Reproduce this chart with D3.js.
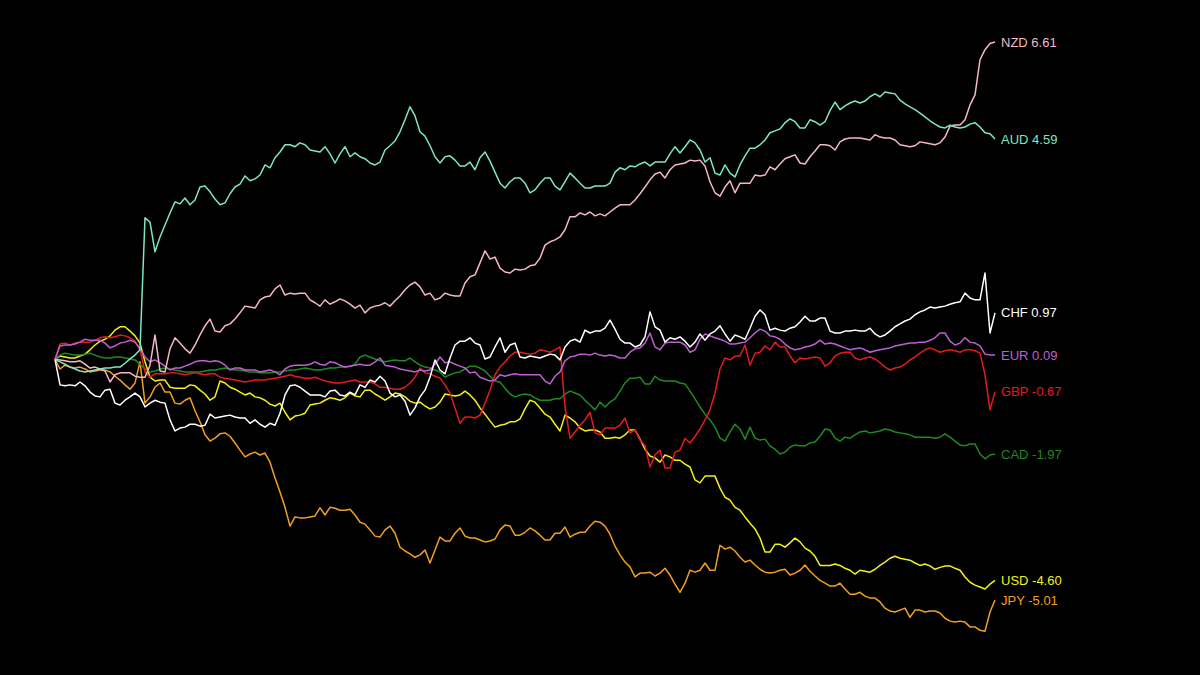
<!DOCTYPE html>
<html>
<head>
<meta charset="utf-8">
<script src="https://cdn.jsdelivr.net/npm/d3@7"></script>
<style>
  body { margin: 0; background: #000; }
</style>
</head>
<body>
<div id="chart-container"></div>
<script>
// currency names, in drawing order
const currencies = ["JPY", "USD", "CAD", "GBP", "EUR", "CHF", "NZD", "AUD"];

// % change since start, one value per step
const aud = [0, -0.05, -0.10, -0.16, -0.20, -0.24, -0.26, -0.24, -0.22, -0.20,
  -0.18, -0.18, -0.16, -0.16, -0.08, 0.01, 0.09, 0.20, 2.95, 2.86,
  2.24, 2.55, 2.80, 3.05, 3.28, 3.24, 3.36, 3.22, 3.32, 3.59,
  3.61, 3.49, 3.34, 3.22, 3.26, 3.45, 3.59, 3.65, 3.82, 3.72,
  3.76, 3.84, 4.05, 3.99, 4.20, 4.32, 4.47, 4.47, 4.43, 4.51,
  4.47, 4.36, 4.34, 4.32, 4.43, 4.28, 4.09, 4.28, 4.43, 4.22,
  4.30, 4.22, 4.18, 4.09, 4.05, 4.11, 4.36, 4.45, 4.55, 4.74,
  4.99, 5.26, 5.07, 4.74, 4.65, 4.45, 4.22, 4.09, 4.22, 4.24,
  4.15, 4.03, 4.03, 4.11, 3.95, 4.20, 4.32, 4.13, 3.90, 3.67,
  3.57, 3.70, 3.78, 3.78, 3.67, 3.47, 3.53, 3.67, 3.78, 3.78,
  3.61, 3.53, 3.70, 3.88, 3.78, 3.67, 3.57, 3.57, 3.61, 3.61,
  3.61, 3.67, 3.90, 3.99, 3.95, 4.03, 4.01, 4.07, 4.11, 4.03,
  4.11, 4.11, 4.11, 4.28, 4.43, 4.30, 4.43, 4.57, 4.51, 4.36,
  4.11, 4.20, 3.88, 3.84, 4.05, 3.88, 3.80, 4.05, 4.24, 4.40,
  4.40, 4.47, 4.57, 4.72, 4.76, 4.80, 4.93, 5.01, 4.95, 4.82,
  4.82, 4.99, 4.95, 4.88, 4.95, 5.18, 5.36, 5.20, 5.28, 5.34,
  5.38, 5.34, 5.38, 5.47, 5.53, 5.47, 5.57, 5.55, 5.53, 5.40,
  5.32, 5.26, 5.20, 5.13, 5.05, 4.97, 4.90, 4.84, 4.82, 4.88,
  4.84, 4.82, 4.84, 4.90, 4.93, 4.84, 4.72, 4.70, 4.59];

const nzd = [0, -0.01, -0.03, -0.05, -0.05, -0.03, -0.10, -0.18, -0.16, -0.20,
  -0.24, -0.47, -0.32, -0.28, -0.28, -0.28, -0.35, -0.37, -0.37, -0.12,
  0.51, -0.24, -0.26, 0.22, 0.45, 0.34, 0.22, 0.13, 0.30, 0.51,
  0.70, 0.84, 0.59, 0.57, 0.70, 0.74, 0.84, 0.97, 1.11, 1.09,
  1.07, 1.24, 1.30, 1.32, 1.47, 1.55, 1.34, 1.38, 1.36, 1.38,
  1.38, 1.24, 1.18, 1.11, 1.24, 1.15, 1.20, 1.26, 1.22, 1.15,
  1.07, 1.13, 0.97, 1.07, 1.11, 1.13, 1.18, 1.11, 1.22, 1.32,
  1.45, 1.55, 1.61, 1.51, 1.34, 1.38, 1.24, 1.28, 1.38, 1.34,
  1.32, 1.32, 1.59, 1.72, 1.76, 2.01, 2.26, 2.09, 2.13, 1.90,
  1.82, 1.80, 1.88, 1.86, 1.88, 1.95, 1.97, 2.11, 2.38, 2.45,
  2.49, 2.55, 2.70, 2.97, 2.97, 3.05, 3.01, 3.07, 2.99, 3.03,
  2.99, 3.07, 3.15, 3.22, 3.22, 3.22, 3.32, 3.45, 3.59, 3.74,
  3.86, 3.90, 3.78, 3.95, 4.05, 4.07, 4.09, 4.15, 4.13, 4.15,
  4.03, 3.70, 3.47, 3.40, 3.59, 3.72, 3.47, 3.67, 3.67, 3.67,
  3.84, 3.82, 3.84, 4.01, 3.95, 4.07, 4.18, 4.22, 4.26, 4.09,
  4.07, 4.22, 4.34, 4.47, 4.47, 4.45, 4.36, 4.53, 4.59, 4.61,
  4.61, 4.61, 4.59, 4.57, 4.68, 4.63, 4.61, 4.61, 4.57, 4.47,
  4.45, 4.43, 4.45, 4.53, 4.51, 4.49, 4.47, 4.51, 4.63, 4.86,
  4.88, 4.88, 4.99, 5.30, 5.51, 6.24, 6.45, 6.58, 6.61];

const chf = [0, -0.53, -0.55, -0.53, -0.55, -0.47, -0.55, -0.68, -0.76, -0.78,
  -0.64, -0.62, -0.91, -0.95, -0.85, -0.78, -0.70, -0.78, -0.99, -0.91,
  -0.85, -0.89, -0.91, -1.26, -1.49, -1.43, -1.41, -1.35, -1.35, -1.39,
  -1.37, -1.14, -1.22, -1.20, -1.18, -1.16, -1.20, -1.22, -1.22, -1.33,
  -1.26, -1.35, -1.41, -1.33, -1.37, -1.12, -0.74, -0.55, -0.53, -0.58,
  -0.66, -0.74, -0.74, -0.74, -0.78, -0.66, -0.64, -0.74, -0.76, -0.68,
  -0.74, -0.53, -0.58, -0.43, -0.47, -0.35, -0.45, -0.70, -0.78, -0.74,
  -0.87, -1.16, -1.01, -0.78, -0.64, -0.37, -0.01, -0.22, -0.30, 0.03,
  0.30, 0.38, 0.38, 0.45, 0.34, 0.30, 0.01, 0.05, 0.26, 0.45,
  0.15, 0.30, 0.34, 0.05, 0.03, 0.07, 0.05, 0.03, 0.07, 0.11,
  0.09, -0.01, 0.26, 0.38, 0.42, 0.36, 0.61, 0.55, 0.59, 0.59,
  0.65, 0.82, 0.63, 0.42, 0.34, 0.34, 0.26, 0.30, 0.47, 0.99,
  0.68, 0.61, 0.36, 0.45, 0.42, 0.47, 0.38, 0.26, 0.36, 0.53,
  0.40, 0.53, 0.59, 0.70, 0.53, 0.38, 0.51, 0.47, 0.42, 0.65,
  0.90, 1.03, 0.93, 0.61, 0.65, 0.61, 0.59, 0.65, 0.68, 0.78,
  0.90, 0.80, 0.80, 0.86, 0.86, 0.59, 0.55, 0.55, 0.59, 0.59,
  0.61, 0.59, 0.59, 0.65, 0.53, 0.47, 0.51, 0.59, 0.68, 0.74,
  0.80, 0.84, 0.93, 0.99, 1.03, 1.09, 1.07, 1.09, 1.11, 1.15,
  1.18, 1.20, 1.38, 1.28, 1.24, 1.24, 1.80, 0.55, 0.97];

const eur = [0, 0.28, 0.30, 0.30, 0.32, 0.36, 0.42, 0.40, 0.40, 0.40,
  0.34, 0.24, 0.28, 0.34, 0.36, 0.40, 0.36, 0.22, 0.05, -0.05,
  -0.01, -0.07, -0.14, -0.22, -0.18, -0.18, -0.14, -0.10, -0.05, -0.03,
  -0.03, -0.05, -0.03, -0.05, -0.12, -0.22, -0.18, -0.18, -0.22, -0.22,
  -0.22, -0.26, -0.24, -0.22, -0.26, -0.32, -0.20, -0.14, -0.12, -0.12,
  -0.12, -0.10, -0.05, -0.10, -0.12, -0.05, -0.07, -0.12, -0.16, -0.14,
  -0.12, -0.10, -0.12, -0.12, -0.05, 0.03, -0.12, -0.14, -0.16, -0.20,
  -0.22, -0.24, -0.26, -0.22, -0.24, -0.22, -0.10, 0.05, -0.07, -0.05,
  -0.10, -0.14, -0.18, -0.28, -0.26, -0.37, -0.41, -0.45, -0.43, -0.32,
  -0.35, -0.32, -0.30, -0.32, -0.32, -0.32, -0.32, -0.32, -0.45, -0.51,
  -0.35, -0.26, -0.03, 0.05, 0.07, 0.11, 0.11, 0.09, 0.13, 0.09,
  0.07, 0.09, 0.07, 0.03, 0.03, 0.15, 0.22, 0.24, 0.34, 0.55,
  0.26, 0.20, 0.34, 0.36, 0.36, 0.36, 0.30, 0.15, 0.20, 0.42,
  0.53, 0.49, 0.45, 0.42, 0.38, 0.32, 0.32, 0.34, 0.36, 0.45,
  0.55, 0.63, 0.59, 0.49, 0.47, 0.42, 0.32, 0.24, 0.20, 0.22,
  0.26, 0.28, 0.32, 0.40, 0.32, 0.34, 0.32, 0.28, 0.24, 0.20,
  0.22, 0.24, 0.20, 0.15, 0.18, 0.20, 0.22, 0.24, 0.28, 0.30,
  0.32, 0.34, 0.34, 0.36, 0.36, 0.40, 0.45, 0.55, 0.55, 0.38,
  0.30, 0.34, 0.45, 0.36, 0.34, 0.28, 0.11, 0.09, 0.09];

const gbp = [0, 0.32, 0.34, 0.30, 0.34, 0.36, 0.36, 0.36, 0.40, 0.45,
  0.47, 0.45, 0.47, 0.51, 0.49, 0.45, 0.38, 0.20, -0.26, -0.37,
  -0.30, -0.30, -0.30, -0.28, -0.28, -0.30, -0.32, -0.30, -0.28, -0.30,
  -0.32, -0.30, -0.30, -0.37, -0.39, -0.41, -0.43, -0.45, -0.47, -0.45,
  -0.43, -0.43, -0.43, -0.41, -0.39, -0.37, -0.35, -0.32, -0.35, -0.37,
  -0.39, -0.39, -0.37, -0.41, -0.45, -0.47, -0.49, -0.49, -0.47, -0.45,
  -0.43, -0.47, -0.47, -0.47, -0.51, -0.58, -0.58, -0.60, -0.62, -0.62,
  -0.58, -0.49, -0.37, -0.18, -0.28, -0.30, -0.35, -0.39, -0.53, -0.70,
  -1.01, -1.33, -1.20, -1.20, -1.22, -1.16, -0.91, -0.64, -0.32, -0.16,
  -0.05, 0.07, 0.15, 0.15, 0.13, 0.11, 0.13, 0.20, 0.18, 0.15,
  0.20, 0.26, -0.99, -1.64, -1.51, -1.37, -1.26, -1.10, -1.53, -1.57,
  -1.43, -1.43, -1.43, -1.37, -1.22, -1.53, -1.47, -1.68, -1.80, -2.24,
  -1.99, -1.89, -2.26, -2.26, -1.93, -1.89, -1.64, -1.74, -1.60, -1.45,
  -1.26, -1.05, -0.70, -0.20, 0.03, -0.01, 0.07, 0.07, 0.30, -0.12,
  0.13, 0.15, 0.28, 0.20, 0.36, 0.26, 0.26, 0.07, -0.07, 0.03,
  0.01, 0.03, 0.05, 0.03, -0.14, -0.07, 0.07, 0.13, 0.15, 0.15,
  0.03, -0.01, 0.03, 0.05, 0.01, -0.07, -0.16, -0.22, -0.18, -0.16,
  -0.10, -0.01, 0.05, 0.13, 0.20, 0.24, 0.20, 0.15, 0.18, 0.20,
  0.18, 0.15, 0.20, 0.20, 0.18, 0.13, -0.32, -1.05, -0.67];

const cad = [0, 0.09, 0.13, 0.11, 0.09, 0.09, 0.11, 0.13, 0.09, 0.05,
  0.03, 0.03, 0.05, 0.05, 0.03, 0.01, -0.01, -0.10, -0.20, -0.26,
  -0.24, -0.20, -0.18, -0.20, -0.22, -0.24, -0.26, -0.26, -0.26, -0.26,
  -0.24, -0.22, -0.22, -0.20, -0.18, -0.20, -0.22, -0.22, -0.24, -0.26,
  -0.26, -0.28, -0.28, -0.28, -0.26, -0.26, -0.24, -0.22, -0.22, -0.20,
  -0.18, -0.20, -0.22, -0.22, -0.20, -0.18, -0.18, -0.16, -0.16, -0.14,
  -0.10, 0.05, 0.09, 0.05, 0.01, -0.03, -0.05, -0.03, -0.01, -0.03,
  -0.03, 0.03, -0.05, -0.12, -0.16, -0.18, -0.22, -0.26, -0.37, -0.32,
  -0.28, -0.26, -0.20, -0.14, -0.14, -0.18, -0.24, -0.35, -0.45, -0.47,
  -0.60, -0.72, -0.78, -0.74, -0.72, -0.74, -0.80, -0.85, -0.85, -0.85,
  -0.82, -0.82, -0.72, -0.66, -0.70, -0.74, -0.85, -0.95, -1.05, -0.89,
  -0.99, -0.89, -0.82, -0.66, -0.49, -0.39, -0.39, -0.37, -0.51, -0.51,
  -0.35, -0.43, -0.45, -0.45, -0.45, -0.49, -0.51, -0.66, -0.82, -0.99,
  -1.14, -1.26, -1.41, -1.64, -1.70, -1.51, -1.35, -1.45, -1.66, -1.41,
  -1.64, -1.68, -1.66, -1.80, -1.87, -1.97, -1.93, -1.83, -1.78, -1.80,
  -1.80, -1.74, -1.72, -1.60, -1.45, -1.47, -1.64, -1.70, -1.62, -1.64,
  -1.57, -1.51, -1.49, -1.53, -1.51, -1.49, -1.45, -1.47, -1.51, -1.53,
  -1.55, -1.57, -1.62, -1.62, -1.62, -1.62, -1.64, -1.62, -1.55, -1.62,
  -1.70, -1.78, -1.80, -1.76, -1.76, -1.97, -2.07, -1.99, -1.97];

const usd = [0, 0.07, 0.05, 0.03, 0.03, 0.07, 0.11, 0.20, 0.30, 0.38,
  0.42, 0.49, 0.61, 0.68, 0.68, 0.59, 0.49, 0.34, -0.05, -0.37,
  -0.45, -0.43, -0.43, -0.58, -0.60, -0.60, -0.60, -0.53, -0.55, -0.64,
  -0.72, -0.85, -0.78, -0.45, -0.49, -0.58, -0.62, -0.68, -0.74, -0.70,
  -0.78, -0.80, -0.85, -0.93, -0.97, -0.91, -1.10, -1.26, -1.18, -1.16,
  -1.12, -0.95, -0.93, -0.91, -0.85, -0.80, -0.82, -0.85, -0.80, -0.70,
  -0.76, -0.78, -0.64, -0.64, -0.72, -0.78, -0.85, -0.78, -0.70, -0.72,
  -0.78, -0.87, -0.91, -0.89, -0.97, -1.03, -0.99, -0.89, -0.72, -0.74,
  -0.76, -0.74, -0.66, -0.74, -0.85, -1.01, -1.14, -1.28, -1.41, -1.37,
  -1.35, -1.30, -1.30, -1.24, -1.03, -0.85, -0.89, -1.01, -1.14, -1.20,
  -1.35, -1.49, -1.16, -1.22, -1.30, -1.43, -1.49, -1.47, -1.47, -1.51,
  -1.64, -1.64, -1.62, -1.64, -1.57, -1.47, -1.47, -1.66, -1.87, -2.01,
  -2.05, -2.14, -1.99, -2.03, -2.10, -2.10, -2.18, -2.24, -2.51, -2.57,
  -2.43, -2.43, -2.43, -2.68, -2.87, -2.93, -3.08, -3.14, -3.28, -3.41,
  -3.53, -3.72, -4.01, -4.01, -3.85, -3.85, -3.91, -3.82, -3.72, -3.80,
  -3.93, -3.99, -4.10, -4.29, -4.29, -4.29, -4.26, -4.29, -4.35, -4.39,
  -4.47, -4.39, -4.41, -4.43, -4.37, -4.29, -4.22, -4.14, -4.10, -4.14,
  -4.16, -4.18, -4.24, -4.29, -4.26, -4.30, -4.37, -4.33, -4.30, -4.30,
  -4.35, -4.39, -4.53, -4.64, -4.70, -4.74, -4.78, -4.68, -4.60];

const jpy = [0, -0.20, -0.12, -0.16, -0.18, -0.16, -0.20, -0.26, -0.24, -0.22,
  -0.22, -0.26, -0.35, -0.43, -0.53, -0.62, -0.49, -0.05, -0.91, -0.78,
  -0.58, -0.49, -0.68, -0.68, -0.91, -0.93, -0.85, -0.80, -1.07, -1.30,
  -1.57, -1.70, -1.64, -1.55, -1.53, -1.60, -1.74, -1.89, -2.03, -1.97,
  -1.93, -1.99, -1.95, -2.14, -2.47, -2.76, -3.08, -3.47, -3.28, -3.30,
  -3.30, -3.28, -3.26, -3.09, -3.24, -3.08, -3.10, -3.14, -3.14, -3.12,
  -3.24, -3.39, -3.43, -3.55, -3.68, -3.70, -3.55, -3.47, -3.62, -3.91,
  -3.99, -4.05, -4.12, -4.07, -3.97, -4.24, -3.97, -3.70, -3.78, -3.78,
  -3.62, -3.51, -3.68, -3.72, -3.72, -3.76, -3.80, -3.78, -3.74, -3.55,
  -3.45, -3.47, -3.66, -3.66, -3.60, -3.51, -3.57, -3.66, -3.76, -3.76,
  -3.62, -3.62, -3.49, -3.70, -3.64, -3.60, -3.60, -3.47, -3.37, -3.39,
  -3.47, -3.64, -3.89, -4.07, -4.22, -4.32, -4.53, -4.45, -4.45, -4.43,
  -4.51, -4.45, -4.35, -4.49, -4.68, -4.85, -4.66, -4.39, -4.43, -4.39,
  -4.24, -4.39, -4.39, -3.87, -3.95, -3.91, -3.99, -4.12, -4.22, -4.18,
  -4.28, -4.37, -4.43, -4.45, -4.43, -4.39, -4.37, -4.49, -4.45, -4.39,
  -4.28, -4.41, -4.51, -4.60, -4.66, -4.72, -4.72, -4.66, -4.78, -4.89,
  -4.89, -4.85, -4.93, -4.97, -4.97, -5.05, -5.18, -5.24, -5.26, -5.22,
  -5.18, -5.37, -5.22, -5.22, -5.26, -5.24, -5.24, -5.28, -5.39, -5.45,
  -5.47, -5.45, -5.47, -5.57, -5.57, -5.64, -5.66, -5.26, -5.01];

const seriesValues = { JPY: jpy, USD: usd, CAD: cad, GBP: gbp, EUR: eur, CHF: chf, NZD: nzd, AUD: aud };

const colors = {
    AUD: "#7fe6c4",
    NZD: "#f4b8c4",
    CHF: "#ffffff",
    EUR: "#bf5fd2",
    GBP: "#e51a1a",
    CAD: "#1f8a1f",
    USD: "#f2f21a",
    JPY: "#f0a020"
};

function drawChart() {
    // canvas size
    const width = 1200;
    const height = 675;

    const n = aud.length;

    const x = d3.scaleLinear()
        .domain([0, n - 1])
        .range([55, 995]);

    // zero sits around y=359, ~48px per percent
    const y = d3.scaleLinear()
        .domain([-5.01, 6.61])
        .range([600, 42]);

    const line = d3.line()
        .x((d, i) => x(i))
        .y(d => y(d));

    const svg = d3.select("#chart-container")
        .append("svg")
        .attr("width", width)
        .attr("height", height)
        .style("background", "#000")
        .attr("font-family", "'Liberation Sans', Arial, sans-serif")
        .attr("font-size", 13);

    const group = svg.append("g")
        .selectAll("g")
        .data(currencies)
        .join("g");

    group.append("path")
        .attr("fill", "none")
        .attr("stroke", d => colors[d])
        .attr("stroke-width", 1.5)
        .attr("stroke-linejoin", "round")
        .attr("d", d => line(seriesValues[d]));

    // end labels
    group.append("text")
        .attr("x", x(n - 1) + 6)
        .attr("y", d => y(seriesValues[d][n - 1]))
        .attr("dy", ".35em")
        .attr("fill", d => colors[d])
        .text(d => `${d} ${seriesValues[d][n - 1].toFixed(2)}`);

    return svg.node();
}

drawChart();
</script>
</body>
</html>
